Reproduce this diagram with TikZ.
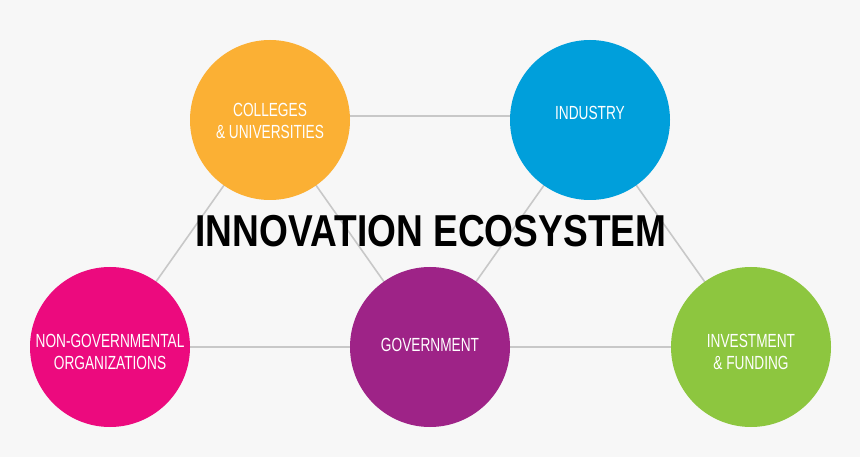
\documentclass[tikz,border=0pt]{standalone}
\usepackage{fontspec}
\setmainfont{Liberation Sans}
\newfontfamily\condfont[FakeStretch=0.72]{Liberation Sans}
\newfontfamily\titlefont[FakeStretch=0.83]{Liberation Sans}
\usetikzlibrary{backgrounds}
\definecolor{bgc}{HTML}{F7F7F7}
\definecolor{linec}{HTML}{C8C8C8}
\definecolor{corange}{HTML}{FBB034}
\definecolor{cblue}{HTML}{009FDB}
\definecolor{cpink}{HTML}{EC0A7E}
\definecolor{cpurple}{HTML}{9E2387}
\definecolor{cgreen}{HTML}{8DC63F}
\tikzset{
  disc/.style={circle, minimum size=160pt, inner sep=0pt, draw=none},
  lbl/.style={text=white, align=center, inner sep=0pt, font=\condfont\fontsize{19}{22}\selectfont},
  link/.style={draw=linec, line width=1.6pt},
  ttl/.style={font=\titlefont\bfseries\fontsize{44.7}{50}\selectfont, text=black, inner sep=0pt}
}
\begin{document}
\begin{tikzpicture}[x=1pt,y=-1pt]
\useasboundingbox (0,0) rectangle (860,457);
\node[disc, fill=corange] (col) at (270,120) {};
\node[disc, fill=cblue] (ind) at (590,120) {};
\node[disc, fill=cpink] (ngo) at (110,347) {};
\node[disc, fill=cpurple] (gov) at (430,347) {};
\node[disc, fill=cgreen] (inv) at (751,347) {};
\node[lbl] (tcol) at (270,121) {COLLEGES\\\& UNIVERSITIES};
\node[lbl] (tind) at (590,113) {INDUSTRY};
\node[lbl] (tngo) at (110,352) {NON-GOVERNMENTAL\\ORGANIZATIONS};
\node[lbl] (tgov) at (430,345) {GOVERNMENT};
\node[lbl] (tinv) at (751,352) {INVESTMENT\\\& FUNDING};
\node[ttl] (title) at (431,231) {INNOVATION ECOSYSTEM};
\begin{scope}[on background layer]
  \fill[bgc] (0,0) rectangle (860,457);
  \draw[link] ([yshift=4pt]col.center) -- ([yshift=4pt]ind.center);
  \draw[link] (col.center) -- (ngo.center);
  \draw[link] (col.center) -- (gov.center);
  \draw[link] (ind.center) -- (gov.center);
  \draw[link] (ind.center) -- (inv.center);
  \draw[link] (ngo.center) -- (gov.center);
  \draw[link] (gov.center) -- (inv.center);
\end{scope}
\end{tikzpicture}
\end{document}
